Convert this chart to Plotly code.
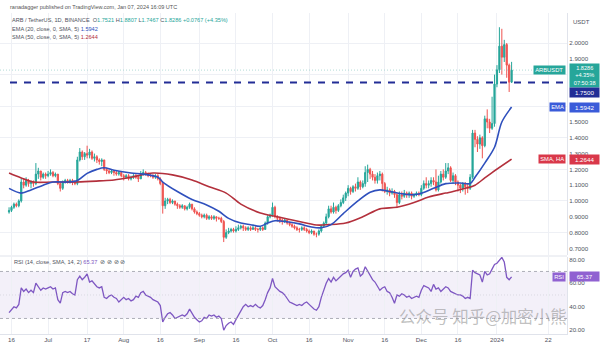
import plotly.graph_objects as go
import pandas as pd

# ---------------- data ----------------
start_date = "2023-06-15"
first_open = 0.93

close = [
    # Jun 15-30
    0.94, 0.96, 0.98, 0.97, 1.00, 1.12, 1.10, 1.13, 1.11, 1.12, 1.11, 1.17, 1.19, 1.15, 1.17, 1.16,
    # Jul
    1.17, 1.18, 1.16, 1.17, 1.11, 1.08, 1.12, 1.13, 1.12, 1.13, 1.12, 1.11, 1.26, 1.31, 1.28, 1.30,
    1.29, 1.31, 1.27, 1.28, 1.26, 1.25, 1.26, 1.20, 1.19, 1.18, 1.19, 1.18, 1.17, 1.18, 1.16,
    # Aug
    1.15, 1.16, 1.14, 1.15, 1.16, 1.15, 1.14, 1.17, 1.18, 1.17, 1.16, 1.16, 1.15, 1.16, 1.14, 1.11,
    0.97, 1.00, 1.01, 0.99, 1.00, 0.98, 0.97, 0.96, 0.97, 0.95, 0.96, 0.98, 0.95, 0.93, 0.92,
    # Sep
    0.91, 0.90, 0.91, 0.89, 0.90, 0.89, 0.90, 0.89, 0.89, 0.87, 0.77, 0.80, 0.81, 0.82, 0.81,
    0.82, 0.83, 0.84, 0.83, 0.82, 0.83, 0.82, 0.83, 0.82, 0.82, 0.83, 0.82, 0.86, 0.90, 0.91,
    # Oct
    0.96, 0.90, 0.89, 0.88, 0.87, 0.88, 0.86, 0.85, 0.84, 0.83, 0.82, 0.82, 0.83, 0.82, 0.81, 0.80,
    0.81, 0.79, 0.79, 0.81, 0.84, 0.86, 0.90, 0.95, 0.93, 0.96, 0.94, 0.97, 0.99, 1.02, 1.05,
    # Nov
    1.08, 1.06, 1.09, 1.08, 1.12, 1.09, 1.11, 1.18, 1.20, 1.17, 1.15, 1.13, 1.16, 1.17, 1.11,
    1.06, 1.07, 1.05, 1.06, 1.04, 0.99, 1.04, 1.03, 1.05, 1.04, 1.05, 1.03, 1.04, 1.05, 1.04,
    # Dec
    1.08, 1.11, 1.10, 1.11, 1.13, 1.12, 1.07, 1.12, 1.17, 1.15, 1.19, 1.21, 1.13, 1.16, 1.12, 1.10,
    1.08, 1.11, 1.09, 1.08, 1.15, 1.43, 1.39, 1.36, 1.40, 1.35, 1.52, 1.50, 1.46, 1.49, 1.74,
    # Jan 1-7
    1.83, 1.98, 1.91, 1.99, 1.86, 1.7521, 1.8286,
]
high = [
    0.96, 0.97, 0.99, 0.99, 1.01, 1.14, 1.14, 1.15, 1.14, 1.13, 1.13, 1.24, 1.21, 1.19, 1.18, 1.18,
    1.19, 1.20, 1.19, 1.18, 1.17, 1.12, 1.13, 1.14, 1.14, 1.14, 1.14, 1.13, 1.28, 1.335, 1.32, 1.31,
    1.35, 1.33, 1.32, 1.30, 1.29, 1.27, 1.27, 1.26, 1.21, 1.20, 1.20, 1.19, 1.19, 1.19, 1.19,
    1.17, 1.17, 1.17, 1.16, 1.17, 1.17, 1.16, 1.19, 1.20, 1.19, 1.18, 1.17, 1.17, 1.17, 1.17, 1.15,
    1.12, 1.02, 1.02, 1.02, 1.01, 1.00, 0.99, 0.98, 0.98, 0.97, 0.97, 0.99, 0.98, 0.96, 0.94,
    0.93, 0.92, 0.92, 0.92, 0.91, 0.91, 0.91, 0.90, 0.90, 0.90, 0.88, 0.82, 0.83, 0.83, 0.83,
    0.84, 0.85, 0.85, 0.85, 0.84, 0.84, 0.84, 0.85, 0.84, 0.83, 0.84, 0.84, 0.87, 0.91, 0.92,
    0.99, 0.97, 0.91, 0.90, 0.89, 0.89, 0.88, 0.87, 0.86, 0.85, 0.84, 0.83, 0.84, 0.84, 0.83, 0.82,
    0.82, 0.81, 0.80, 0.82, 0.85, 0.87, 0.92, 0.97, 0.97, 0.99, 0.97, 0.98, 1.01, 1.04, 1.06,
    1.10, 1.09, 1.10, 1.11, 1.15, 1.13, 1.13, 1.22, 1.23, 1.21, 1.19, 1.17, 1.18, 1.19, 1.18,
    1.12, 1.09, 1.08, 1.08, 1.07, 1.05, 1.06, 1.06, 1.07, 1.06, 1.06, 1.06, 1.05, 1.06, 1.06,
    1.10, 1.13, 1.15, 1.13, 1.15, 1.15, 1.20, 1.16, 1.19, 1.20, 1.24, 1.24, 1.22, 1.18, 1.17, 1.13,
    1.11, 1.12, 1.12, 1.11, 1.17, 1.45, 1.45, 1.41, 1.42, 1.41, 1.54, 1.58, 1.52, 1.66, 1.80,
    1.86, 2.10, 2.09, 2.02, 2.00, 1.87, 1.8807,
]
low = [
    0.92, 0.93, 0.95, 0.96, 0.96, 0.99, 1.08, 1.09, 1.09, 1.08, 1.09, 1.10, 1.14, 1.13, 1.14, 1.14,
    1.15, 1.16, 1.15, 1.15, 1.10, 1.06, 1.07, 1.11, 1.11, 1.11, 1.10, 1.10, 1.10, 1.25, 1.26, 1.26,
    1.27, 1.27, 1.26, 1.25, 1.24, 1.23, 1.22, 1.19, 1.17, 1.17, 1.17, 1.16, 1.16, 1.16, 1.15,
    1.13, 1.14, 1.13, 1.13, 1.14, 1.14, 1.12, 1.14, 1.16, 1.16, 1.15, 1.15, 1.14, 1.14, 1.13, 1.10,
    0.92, 0.95, 0.98, 0.98, 0.98, 0.97, 0.95, 0.95, 0.95, 0.94, 0.94, 0.95, 0.94, 0.92, 0.91,
    0.90, 0.89, 0.89, 0.88, 0.88, 0.88, 0.88, 0.87, 0.88, 0.86, 0.74, 0.76, 0.79, 0.80, 0.80,
    0.80, 0.81, 0.82, 0.81, 0.81, 0.81, 0.81, 0.82, 0.81, 0.80, 0.81, 0.81, 0.82, 0.85, 0.89,
    0.90, 0.89, 0.87, 0.86, 0.85, 0.86, 0.85, 0.84, 0.83, 0.82, 0.81, 0.80, 0.81, 0.81, 0.80, 0.79,
    0.79, 0.78, 0.77, 0.78, 0.80, 0.83, 0.85, 0.89, 0.92, 0.92, 0.92, 0.93, 0.96, 0.98, 1.00,
    1.03, 1.04, 1.05, 1.06, 1.07, 1.07, 1.08, 1.09, 1.12, 1.14, 1.13, 1.11, 1.11, 1.13, 1.06,
    1.05, 1.04, 1.03, 1.04, 1.02, 0.955, 0.98, 1.01, 1.02, 1.02, 1.02, 1.01, 1.02, 1.03, 1.03,
    1.03, 1.07, 1.08, 1.08, 1.09, 1.10, 1.06, 1.06, 1.11, 1.13, 1.14, 1.17, 1.12, 1.11, 1.10, 1.06,
    1.05, 1.06, 1.04, 1.05, 1.07, 1.14, 1.34, 1.31, 1.33, 1.27, 1.34, 1.46, 1.43, 1.45, 1.47,
    1.72, 1.81, 1.80, 1.88, 1.78, 1.69, 1.7467,
]
rsi = [
    35, 38, 40, 39, 42, 56, 53, 55, 52, 54, 52, 60, 57, 54, 56, 55,
    56, 57, 55, 56, 46, 43, 52, 53, 52, 53, 51, 50, 63, 66, 63, 65, 68, 61, 62, 59,
    57, 56, 57, 48, 47, 49, 50, 48, 47, 44, 46,
    48, 46, 47, 45, 46, 49, 48, 52, 53, 50, 49, 48, 46, 45, 44, 41, 27, 31, 34, 35,
    33, 30, 31, 32, 33, 32, 34, 38, 34, 31, 29,
    27, 28, 31, 30, 33, 32, 33, 31, 32, 30, 20, 24, 26, 27, 25, 29, 33, 37, 40, 42,
    40, 41, 40, 42, 40, 39, 41, 46, 52, 56,
    64, 57, 55, 53, 52, 50, 47, 44, 43, 42, 41, 42, 41, 43, 44, 42, 40, 38, 37, 40,
    48, 54, 60, 64, 61, 65, 62, 64, 66, 68, 69,
    71, 65, 70, 72, 73, 66, 68, 74, 70, 66, 63, 61, 58, 54, 56, 57, 53, 52, 48, 43,
    50, 49, 51, 50, 48, 49, 47, 48, 49, 48,
    54, 58, 57, 56, 53, 59, 55, 56, 53, 55, 57, 56, 53, 52, 51, 50, 50, 49, 47, 48,
    47, 71, 69, 68, 67, 61, 70, 67, 68, 72, 76,
    77, 80, 82, 78, 65, 63, 65.37,
]
# EMA 20 / SMA 50 read at sample days (index of the candle day)
ema_idx = [0, 5, 9, 14, 18, 24, 28, 32, 36, 39, 43, 50, 55, 61, 63, 69, 75, 81, 86, 90, 95, 99,
           103, 106, 109, 113, 119, 124, 128, 132, 137, 143, 148, 152, 156, 164, 168, 174, 179,
           185, 189, 191, 195, 199, 202, 206]
ema_val = [1.08, 1.05, 1.07, 1.10, 1.12, 1.12, 1.13, 1.175, 1.20, 1.21, 1.195, 1.177, 1.17, 1.15,
           1.12, 1.06, 1.01, 0.975, 0.935, 0.89, 0.86, 0.85, 0.84, 0.86, 0.875, 0.87, 0.855, 0.835,
           0.83, 0.85, 0.92, 1.00, 1.055, 1.07, 1.06, 1.04, 1.044, 1.08, 1.11, 1.114, 1.11, 1.15,
           1.24, 1.34, 1.50, 1.5942]
sma_idx = [0, 5, 10, 18, 28, 37, 43, 50, 59, 67, 75, 82, 89, 95, 103, 110, 118, 126, 131, 138,
           145, 152, 159, 166, 172, 179, 182, 187, 191, 195, 198, 206]
sma_val = [1.177, 1.146, 1.12, 1.12, 1.12, 1.127, 1.133, 1.15, 1.177, 1.165, 1.133, 1.09, 1.05,
           0.98, 0.924, 0.90, 0.873, 0.848, 0.85, 0.86, 0.90, 0.95, 0.96, 0.99, 1.025, 1.05, 1.06,
           1.08, 1.10, 1.146, 1.18, 1.2644]

change_abs = "+0.0767"
change_pct = "+4.35%"
countdown = "07:50:38"
level_price = 1.75
rsi_upper, rsi_mid, rsi_lower = 70, 50, 30

price_ticks = [0.7, 0.8, 0.9, 1.0, 1.1, 1.2, 1.3, 1.4, 1.5, 1.9, 2.0]
price_grid = [0.8, 1.0, 1.2, 1.4, 1.6, 1.8, 2.0]
rsi_ticks = [20, 40, 60, 80]
date_ticks = ["2023-06-16", "2023-07-01", "2023-07-17", "2023-08-01", "2023-08-16",
              "2023-09-01", "2023-09-16", "2023-10-01", "2023-10-16", "2023-11-01",
              "2023-11-16", "2023-12-01", "2023-12-16", "2024-01-01", "2024-01-22"]
date_labels = ["16", "Jul", "17", "Aug", "16", "Sep", "16", "Oct", "16", "Nov", "16",
               "Dec", "16", "2024", "22"]

# ---------------- styling ----------------
UP = "#26a69a"
DN = "#ef5350"
EMA_C = "#2f50bd"
SMA_C = "#b3303c"
RSI_C = "#7e57c2"
LEVEL_C = "#222d96"
GRID = "#eef0f5"
TXT = "#50535e"
FONT = "Liberation Sans, Arial, sans-serif"
CJK = "Noto Sans CJK SC"

W, H = 600, 348
ML, MR, MT, MB = 0, 33, 13, 14
PW, PH = W - ML - MR, H - MT - MB


def px(x):
    return (x - ML) / PW


def py(y):
    return (H - MB - y) / PH


dates = pd.date_range(start_date, periods=len(close), freq="D")
opens = [first_open] + close[:-1]
ema_x = dates[ema_idx]
sma_x = dates[sma_idx]

fig = go.Figure()
fig.add_trace(go.Candlestick(
    x=dates, open=opens, high=high, low=low, close=close,
    increasing=dict(line=dict(color=UP, width=1), fillcolor=UP),
    decreasing=dict(line=dict(color=DN, width=1), fillcolor=DN),
    whiskerwidth=0, xaxis="x", yaxis="y", showlegend=False, hoverinfo="skip"))
fig.add_trace(go.Scatter(x=sma_x, y=sma_val, mode="lines", xaxis="x", yaxis="y",
                         line=dict(color=SMA_C, width=1.6, shape="spline", smoothing=0.9),
                         showlegend=False, hoverinfo="skip"))
fig.add_trace(go.Scatter(x=ema_x, y=ema_val, mode="lines", xaxis="x", yaxis="y",
                         line=dict(color=EMA_C, width=1.6, shape="spline", smoothing=0.9),
                         showlegend=False, hoverinfo="skip"))
fig.add_trace(go.Scatter(x=dates, y=rsi, mode="lines", xaxis="x2", yaxis="y2",
                         line=dict(color=RSI_C, width=1.3), showlegend=False, hoverinfo="skip"))

x_range = ["2023-06-11 07:00", "2024-01-29 17:00"]

shapes = [
    dict(type="rect", xref="x2 domain", yref="y2", x0=0, x1=1, y0=rsi_lower, y1=rsi_upper,
         fillcolor="rgba(126,87,194,0.09)", line=dict(width=0), layer="below"),
    dict(type="line", xref="x2 domain", yref="y2", x0=0, x1=1, y0=rsi_upper, y1=rsi_upper,
         line=dict(color="#9a9ca6", width=0.8, dash="3px,3px")),
    dict(type="line", xref="x2 domain", yref="y2", x0=0, x1=1, y0=rsi_lower, y1=rsi_lower,
         line=dict(color="#9a9ca6", width=0.8, dash="3px,3px")),
    dict(type="line", xref="x2 domain", yref="y2", x0=0, x1=1, y0=rsi_mid, y1=rsi_mid,
         line=dict(color="#c9cad1", width=0.6, dash="1px,2px")),
    dict(type="line", xref="paper", yref="paper", x0=0, x1=1, y0=py(256), y1=py(256),
         line=dict(color="#e0e3eb", width=1)),
    dict(type="line", xref="paper", yref="y", x0=0, x1=1, y0=close[-1], y1=close[-1],
         line=dict(color="#9fd3cc", width=0.8, dash="1px,2px")),
    dict(type="line", xref="paper", yref="y", x0=px(10), x1=1, y0=level_price, y1=level_price,
         line=dict(color=LEVEL_C, width=2, dash="7px,7px")),
]


def tag(text, yval, bg, yref="y", left=False, yshift=0, width=None, font_size=6.2):
    return dict(text=text, xref="paper", x=(1 - 1.5 / PW) if left else (1 + 1.5 / PW),
                xanchor="right" if left else "left", yref=yref, y=yval, yanchor="middle",
                yshift=yshift, showarrow=False, bgcolor=bg, borderpad=1.2,
                font=dict(family=FONT, size=font_size, color="white"), width=width,
                align="center")


header2 = ("ARB / TetherUS, 1D, BINANCE&nbsp;&nbsp;"
           f"O<span style='color:{UP}'>{opens[-1]:.4f}</span> "
           f"H<span style='color:{UP}'>{high[-1]:.4f}</span> "
           f"L<span style='color:{UP}'>{low[-1]:.4f}</span> "
           f"C<span style='color:{UP}'>{close[-1]:.4f} "
           f"{change_abs} ({change_pct})</span>")

annotations = [
    dict(text="ranadagger published on TradingView.com, Jan 07, 2024 16:09 UTC",
         xref="paper", yref="paper", x=px(8), y=py(7), xanchor="left", yanchor="middle",
         showarrow=False, font=dict(family=FONT, size=5.5, color="#555")),
    dict(text=header2, xref="paper", yref="paper", x=px(10), y=py(20), xanchor="left",
         yanchor="middle", showarrow=False, font=dict(family=FONT, size=5.6, color=TXT)),
    dict(text=f"EMA (20, close, 0, SMA, 5) <span style='color:{EMA_C}'>{ema_val[-1]:.4f}</span>",
         xref="paper", yref="paper", x=px(10), y=py(29), xanchor="left", yanchor="middle",
         showarrow=False, font=dict(family=FONT, size=5.6, color=TXT)),
    dict(text=f"SMA (50, close, 0, SMA, 5) <span style='color:{SMA_C}'>{sma_val[-1]:.4f}</span>",
         xref="paper", yref="paper", x=px(10), y=py(37), xanchor="left", yanchor="middle",
         showarrow=False, font=dict(family=FONT, size=5.6, color=TXT)),
    dict(text=f"RSI (14, close, SMA, 14, 2) <span style='color:{RSI_C}'>{rsi[-1]:.2f}</span>"
              "&nbsp;&nbsp;⊘ ⊘ ⊘ ⊘",
         xref="paper", yref="paper", x=px(12), y=py(262), xanchor="left", yanchor="middle",
         showarrow=False, font=dict(family=FONT, size=5.6, color=TXT)),
    dict(text="USDT", xref="paper", yref="paper", x=1 + 14 / PW, y=py(22), xanchor="center",
         yanchor="middle", showarrow=False, font=dict(family=FONT, size=6, color=TXT)),
    tag(f"{close[-1]:.4f}<br>{change_pct}<br>{countdown}",
        close[-1], UP, yshift=-5, width=27, font_size=5.6),
    tag("ARBUSDT", close[-1], UP, left=True, font_size=5.8),
    tag(f"{level_price:.4f}", level_price, LEVEL_C, yshift=-10, width=27),
    tag(f"{ema_val[-1]:.4f}", ema_val[-1], "#3a5bd9", width=27),
    tag("EMA", ema_val[-1], "#3a5bd9", left=True, font_size=5.8),
    tag(f"{sma_val[-1]:.4f}", sma_val[-1], "#d9384a", width=27),
    tag("SMA, HA", sma_val[-1], "#d9384a", left=True, font_size=5.8),
    tag(f"{rsi[-1]:.2f}", rsi[-1], "#9061d1", yref="y2", width=27),
    tag("RSI", rsi[-1], "#9061d1", yref="y2", left=True, font_size=5.8),
    # watermark
    dict(text="公众号 知乎@加密小熊", xref="paper", yref="paper", x=px(483), y=py(316),
         xanchor="center", yanchor="middle", showarrow=False,
         font=dict(family=CJK, size=16.5, color="rgba(140,140,140,0.55)")),
]

axis_font = dict(family=FONT, size=6.2, color=TXT)

fig.update_layout(
    width=W, height=H,
    margin=dict(l=ML, r=MR, t=MT, b=MB),
    paper_bgcolor="white", plot_bgcolor="white",
    showlegend=False,
    shapes=shapes,
    annotations=annotations,
    xaxis=dict(domain=[0, 1], anchor="y", range=x_range, tickvals=date_ticks,
               ticktext=date_labels, showticklabels=False, showgrid=True, gridcolor=GRID,
               gridwidth=1, zeroline=False, rangeslider=dict(visible=False), ticks=""),
    xaxis2=dict(domain=[0, 1], anchor="y2", matches="x", range=x_range, tickvals=date_ticks,
                ticktext=date_labels, showticklabels=True, showgrid=True, gridcolor=GRID,
                gridwidth=1, zeroline=False, tickfont=axis_font, ticks="",
                showline=True, linecolor="#e0e3eb", linewidth=1),
    yaxis=dict(domain=[py(255), 1], anchor="x", side="right", range=[0.658, 2.19],
               tickvals=price_ticks, tickformat=".4f", showgrid=False, zeroline=False,
               minor=dict(tickvals=price_grid, showgrid=True, gridcolor=GRID, gridwidth=1),
               tickfont=axis_font, ticks="", showline=True, linecolor="#e0e3eb",
               linewidth=1),
    yaxis2=dict(domain=[0, py(257)], anchor="x2", side="right", range=[16.8, 82.3],
                tickvals=rsi_ticks, tickformat=".2f", showgrid=False, zeroline=False,
                tickfont=axis_font, ticks="", showline=True, linecolor="#e0e3eb",
                linewidth=1),
)

fig.write_html("out.html")
